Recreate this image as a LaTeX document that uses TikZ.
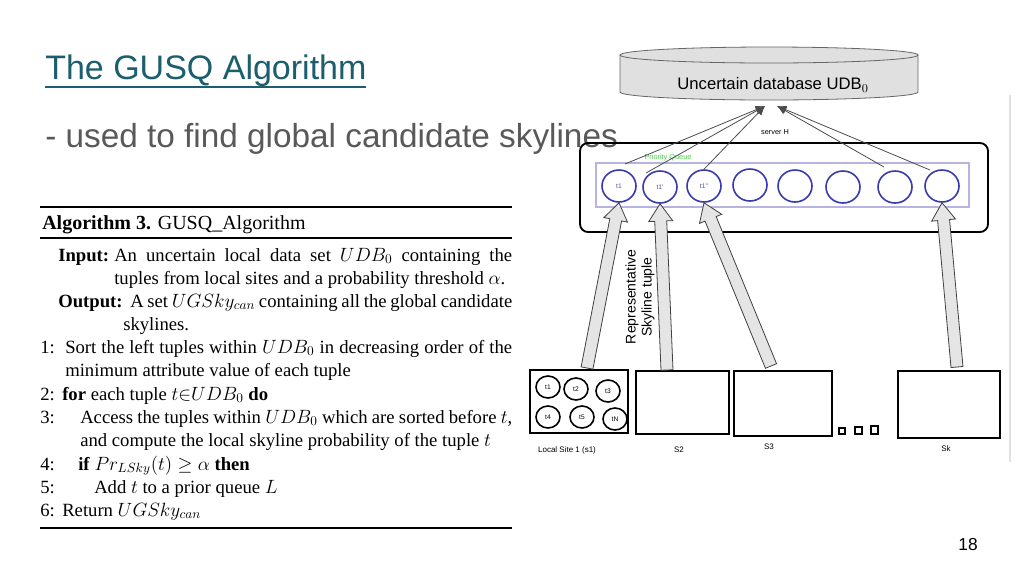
\documentclass[tikz,border=0pt]{standalone}
\usepackage{fontspec}
\setmainfont{Liberation Serif}
\newfontfamily\slidefont{Liberation Sans}
\usetikzlibrary{calc,arrows.meta,shapes.geometric}
\definecolor{teal1}{HTML}{1B5E6E}
\definecolor{subgray}{HTML}{595959}
\definecolor{pq}{HTML}{B8B4E2}
\definecolor{cblue}{HTML}{3A3AB0}
\tikzset{
  alg/.style={anchor=base west, inner sep=0pt, font=\fontsize{14}{16}\selectfont},
  sitebox/.style={draw=black, line width=1.4pt, inner sep=0pt},
  qcirc/.style={draw=cblue, line width=1.2pt, ellipse, minimum width=25.5pt, minimum height=24pt, inner sep=0pt, font=\slidefont\fontsize{5}{6}\selectfont, text=cblue!70!gray},
  scirc/.style={draw=black, line width=1.2pt, ellipse, minimum width=18pt, minimum height=16.5pt, inner sep=0pt, font=\slidefont\fontsize{5}{6}\selectfont},
  thinarr/.style={draw=black!70, line width=0.6pt, -{Latex[length=7pt,width=6pt]}},
  tiny/.style={font=\slidefont\fontsize{6}{7}\selectfont, inner sep=0pt},
}
\newcommand{\hollowarrow}[2]{%
  \path let \p1=(#1), \p2=(#2) in coordinate (hA) at (\p1) coordinate (hB) at (\p2);
  \coordinate (hH) at ($(hB)!13pt!(hA)$);
  \draw[fill=black!10, draw=black!75, line width=0.6pt]
    ($(hA)!4.5pt!90:(hB)$) -- ($(hH)!4.5pt!-90:(hA)$) -- ($(hH)!9pt!-90:(hA)$) -- (hB)
    -- ($(hH)!9pt!90:(hA)$) -- ($(hH)!4.5pt!90:(hA)$) -- ($(hA)!4.5pt!-90:(hB)$) -- cycle;}
\begin{document}
\begin{tikzpicture}[x=0.75pt,y=-0.75pt]
\useasboundingbox[fill=white] (0,0) rectangle (1024,576);
% title
\node[anchor=base west, inner sep=0pt, text=teal1, font=\slidefont\fontsize{25.5}{29}\selectfont] (title) at (45,79) {The GUSQ Algorithm};
\draw[teal1, line width=1.2pt] (45,87) -- (366,87);
\node[anchor=base west, inner sep=0pt, text=subgray, font=\slidefont\fontsize{25}{29}\selectfont] (sub) at (45,147) {- used to find global candidate skylines};
% algorithm
\draw[line width=1.6pt] (40,207) -- (512,207);
\node[anchor=base west, inner sep=0pt, font=\fontsize{15}{17}\selectfont] (ah) at (42,229) {\textbf{Algorithm 3.} GUSQ\_Algorithm};
\draw[line width=1.6pt] (40,238) -- (512,238);
\node[alg] (in1) at (58,261) {\textbf{Input:}};
\node[alg] (in2) at (114,261) {\makebox[298.5pt][s]{An uncertain local data set $UDB_0$ containing the}};
\node[alg] (in3) at (114,284) {tuples from local sites and a probability threshold $\alpha$.};
\node[alg] (o1) at (58,307) {\textbf{Output:}};
\node[alg] (o2) at (130,307) {\makebox[286.5pt][s]{A set $UGSky_{can}$ containing all the global candidate}};
\node[alg] (o3) at (123,330) {skylines.};
\node[alg] (l1n) at (40,353) {1:};
\node[alg] (l1) at (65,353) {\makebox[335.25pt][s]{Sort the left tuples within $UDB_0$ in decreasing order of the}};
\node[alg] (l1b) at (65,376) {minimum attribute value of each tuple};
\node[alg] (l2n) at (40,400) {2:};
\node[alg] (l2) at (62,400) {\textbf{for} each tuple $t{\in}UDB_0$ \textbf{do}};
\node[alg] (l3n) at (40,423) {3:};
\node[alg] (l3) at (80,423) {\makebox[324pt][s]{Access the tuples within $UDB_0$ which are sorted before $t$,}};
\node[alg] (l3b) at (80,446) {and compute the local skyline probability of the tuple $t$};
\node[alg] (l4n) at (40,470) {4:};
\node[alg] (l4) at (78,470) {\textbf{if} $Pr_{LSky}(t)\geq\alpha$ \textbf{then}};
\node[alg] (l5n) at (40,493) {5:};
\node[alg] (l5) at (94,493) {Add $t$ to a prior queue $L$};
\node[alg] (l6n) at (40,516) {6:};
\node[alg] (l6) at (62,516) {Return $UGSky_{can}$};
\draw[line width=1.2pt] (40,528) -- (512,528);
% faint separator
\draw[black!12, line width=0.8pt] (1010,95) -- (1010,462);
% cylinder
\draw[fill=black!12, draw=black!60, line width=0.6pt] (620,55) -- (620,92) arc[start angle=180, end angle=0, x radius=149, y radius=8] -- (918,55);
\draw[fill=black!12, draw=black!60, line width=0.6pt] (769,55) ellipse[x radius=149, y radius=8];
\node[font=\slidefont\fontsize{12.5}{14}\selectfont, inner sep=0pt] (udb) at (773,85) {Uncertain database UDB$_0$};
\coordinate (cylL) at (765,106);
\coordinate (cylR) at (777,106);
% server
\node[tiny, font=\slidefont\fontsize{5.5}{6}\selectfont] (srv) at (775,132) {server H};
\draw[line width=1.4pt, rounded corners=6pt] (580,143) rectangle (988,232);
\draw[pq, line width=1pt] (596,163) rectangle (969,207);
\node[tiny, text=green!70!black!70, font=\slidefont\fontsize{5.5}{6}\selectfont] (pql) at (668,158) {Priority Queue};
\node[qcirc] (q1) at (619,186) {t1};
\node[qcirc] (q2) at (660,187) {t1'};
\node[qcirc] (q3) at (704,186) {t1''};
\node[qcirc] (q4) at (750,185) {};
\node[qcirc] (q5) at (795,186) {};
\node[qcirc] (q6) at (843,187) {};
\node[qcirc] (q7) at (895,187) {};
\node[qcirc] (q8) at (942,186) {};
% thin arrows
\coordinate (a1) at (625,164);
\coordinate (a2) at (646,173);
\draw[thinarr] (a1) -- (cylL);
\draw[thinarr] (a2) -- (cylL);
\draw[thinarr] (q3.north) -- (cylL);
\coordinate (a4) at (884,167);
\coordinate (a5) at (930,170);
\draw[thinarr] (a4) -- (cylR);
\draw[thinarr] (a5) -- (cylR);
% sites
\node[sitebox, minimum width=73.5pt, minimum height=47.25pt] (s1) at (579,401.5) {};
\node[sitebox, minimum width=69.75pt, minimum height=47.25pt] (s2) at (682.5,402.5) {};
\node[sitebox, minimum width=73.5pt, minimum height=48.75pt] (s3) at (783,403.5) {};
\node[sitebox, minimum width=76.5pt, minimum height=50.25pt] (sk) at (949,404.5) {};
\node[scirc] (t1) at (548,387) {t1};
\node[scirc] (t2) at (576,389) {t2};
\node[scirc] (t3) at (608,391) {t3};
\node[scirc] (t4) at (548,417) {t4};
\node[scirc] (t5) at (582,417) {t5};
\node[scirc] (tN) at (615,419) {tN};
\draw[line width=1.2pt] (839,428) rectangle (845,434) (855,427) rectangle (862,434) (871,426) rectangle (878,434);
\node[tiny] (ls1) at (567,450) {Local Site 1 (s1)};
\node[tiny] (ls2) at (679,450) {S2};
\node[tiny] (ls3) at (769,447) {S3};
\node[tiny] (lsk) at (946,449) {Sk};
% hollow arrows
\coordinate (b1) at (587,368);
\coordinate (b2) at (667,370);
\coordinate (b3) at (771,366);
\coordinate (b4) at (957,367);
\hollowarrow{b1}{q1.south}
\hollowarrow{b2}{q2.south}
\hollowarrow{b3}{q3.south}
\hollowarrow{b4}{q8.south}
\node[rotate=90, align=center, inner sep=0pt, font=\slidefont\fontsize{10.5}{12}\selectfont] (rep) at (640,297) {Representative\\Skyline tuple};
\node[font=\slidefont\fontsize{13}{15}\selectfont, inner sep=0pt] (pg) at (968,545) {18};
\end{tikzpicture}
\end{document}
